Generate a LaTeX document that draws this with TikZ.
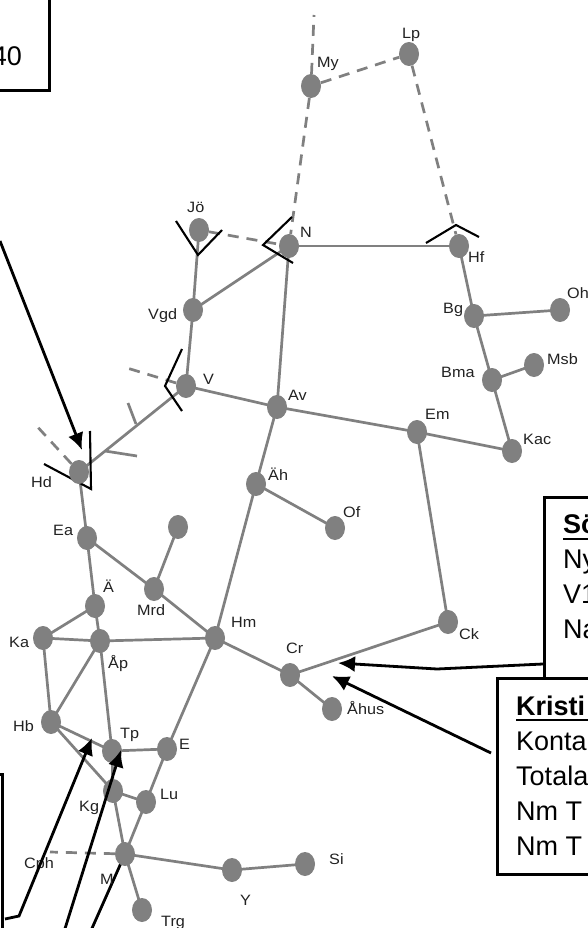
\documentclass[tikz,border=0pt]{standalone}
\usepackage{fontspec}
\setmainfont{Liberation Sans}
\newfontfamily\lblfont[FakeStretch=1.08]{Liberation Sans}
\usetikzlibrary{arrows.meta,shapes.geometric}
\definecolor{netgray}{HTML}{808080}
\definecolor{lblcol}{HTML}{222222}
\pgfdeclarelayer{edges}
\pgfsetlayers{edges,main}
\tikzset{
  x=1pt,y=-1pt,
  stn/.style={ellipse,fill=netgray,draw=none,minimum width=20pt,minimum height=24pt,inner sep=0pt},
  lbl/.style={anchor=base west,inner sep=0pt,text=lblcol,font=\lblfont\fontsize{15}{17}\selectfont},
  txt/.style={anchor=base west,inner sep=0pt,font=\fontsize{27}{30}\selectfont},
  link/.style={draw=netgray,line width=2.7pt},
  dlink/.style={draw=netgray,line width=2.7pt,dash pattern=on 11pt off 8pt},
  mark line/.style={draw=black,line width=2.1pt},
  callout/.style={draw=black,line width=2.8pt,-{Latex[length=17pt,width=16pt]}},
  plainline/.style={draw=black,line width=2.8pt},
  tbox/.style={draw=black,line width=2.6pt,fill=white},
  uline/.style={draw=black,line width=2.6pt}
}
\begin{document}
\begin{tikzpicture}
\useasboundingbox (0,0) rectangle (588,928);
\clip (0,0) rectangle (588,928);
\foreach \n/\p in {My/{311,86},Lp/{409,54},Jo/{199,230},N/{289,246},Hf/{459,246},Vgd/{193,310},Bg/{474,316},Oh/{560,310},Msb/{534,365},Bma/{492,380},V/{186,386},Av/{277,407},Em/{417,432},Kac/{512,451},Ah/{256,484},Of/{335,528},Hd/{79,472},Ea/{87,538},Blank/{178,527},Ae/{95,606},Mrd/{154,589},Ka/{43,638},Ap/{100,641},Hm/{215,638},Ck/{448,622},Cr/{290,675},Ahus/{332,709},Hb/{51,722},Tp/{112,751},E/{167,749},Kg/{113,791},Lu/{146,802},M/{125,854},Y/{232,870},Si/{305,864},Trg/{142,910}}
  {\node[stn] (\n) at (\p) {};}
% free ends
\coordinate (myup) at (314,15);
\coordinate (vleft) at (127,368);
\coordinate (hdleft) at (33,422);
\coordinate (cph) at (50,852);
\coordinate (s1a) at (136,424); \coordinate (s1b) at (128,403);
\coordinate (s2a) at (105,451); \coordinate (s2b) at (137,456);
\begin{pgfonlayer}{edges}
\fill[white] (0,0) rectangle (588,928);
\foreach \a/\b in {Hf/N,Hf/Bg,Bg/Oh,Bg/Bma,Bma/Msb,Bma/Kac,Em/Kac,Em/Av,Av/V,Av/N,Av/Ah,Ah/Of,Ah/Hm,Em/Ck,Ck/Cr,Cr/Ahus,Cr/Hm,Hm/Mrd,Hm/Ap,Hm/E,Mrd/Ea,Mrd/Blank,Ea/Hd,Ea/Ae,Ae/Ka,Ae/Ap,Ka/Ap,Ka/Hb,Ap/Hb,Ap/Tp,Hb/Tp,Hb/Kg,Tp/E,Tp/Kg,Kg/Lu,Kg/M,E/Lu,Lu/M,M/Y,Y/Si,M/Trg,V/Vgd,Vgd/Jo,Vgd/N,V/Hd}
  {\draw[link] (\a.center) -- (\b.center);}
\foreach \a/\b in {My/myup,My/Lp,My/N,Lp/Hf,Jo/N,V/vleft,Hd/hdleft,M/cph}
  {\draw[dlink] (\a) -- (\b);}
\draw[link] (s1a) -- (s1b);
\draw[link] (s2a) -- (s2b);
% black marks
\draw[mark line] (176,221) -- (198,255) -- (222,230);
\draw[mark line] (292,217) -- (263,245) -- (293,263);
\draw[mark line] (426,243) -- (456,225) -- (479,237);
\draw[mark line] (182,349) -- (165,386) -- (182,411);
\draw[mark line] (90,431) -- (91,489) -- (44,464);
% line that ends behind M
\coordinate (a3s) at (89,935);
\draw[plainline] (a3s) -- (M.center);
\end{pgfonlayer}
% labels
\foreach \tx/\p in {Jö/{187,212},My/{317,68},Lp/{402,39},N/{300,237},Hf/{468,262},Bg/{443,313},Oh/{567,298},Msb/{547,364},Bma/{441,377},Em/{425,419},Kac/{523,444},V/{203,384},Av/{288,400},Äh/{268,480},Of/{343,517},Vgd/{148,319},Hd/{31,487},Ea/{53,535},Ä/{103,592},Mrd/{137,615},Ka/{9,647},Åp/{108,668},Hm/{231,627},Ck/{459,639},Cr/{286,653},Åhus/{347,714},Hb/{13,731},Tp/{120,738},E/{179,749},Lu/{160,799},Kg/{79,811},Cph/{24,868},M/{100,884},Trg/{161,926},Y/{240,905},Si/{329,864}}
  {\node[lbl] at (\p) {\tx};}
% text boxes
\node[tbox,inner sep=0pt,anchor=north west,minimum width=68pt,minimum height=109pt] (boxA) at (-20,-20) {};
\node[txt,anchor=base east] (tA) at (22,66) {40};
\node[tbox,inner sep=0pt,anchor=north west,minimum width=30pt,minimum height=180pt] (boxB) at (-29,773) {};
\node[tbox,inner sep=0pt,anchor=north west,minimum width=80pt,minimum height=200pt] (boxC) at (543,496) {};
\node[txt] (c1) at (563,533) {\bfseries Sö};
\draw[uline] (563,539) -- (588,539);
\node[txt] (c2) at (563,568) {Ny};
\node[txt] (c3) at (563,603) {V1};
\node[txt] (c4) at (563,638) {Na};
\node[tbox,inner sep=0pt,anchor=north west,minimum width=120pt,minimum height=196pt] (boxD) at (496,677) {};
\node[txt] (d1) at (516,715) {\bfseries Kristi};
\draw[uline] (516,720) -- (588,720);
\node[txt] (d2) at (516,750) {Konta};
\node[txt] (d3) at (516,785) {Totala};
\node[txt] (d4) at (516,820) {Nm T};
\node[txt] (d5) at (516,855) {Nm T};
% callouts
\coordinate (a1s) at (0,241); \coordinate (a1t) at (82,450);
\draw[callout] (a1s) -- (a1t);
\coordinate (a2m) at (437,669); \coordinate (a2t) at (338,663); \coordinate (a2s) at (543,664);
\draw[callout] (a2s) -- (a2m) -- (a2t);
\coordinate (a5s) at (491,753); \coordinate (a5t) at (332,676);
\draw[callout] (a5s) -- (a5t);
\coordinate (a6s) at (5,919); \coordinate (a6m) at (19,916); \coordinate (a6t) at (92,738);
\draw[callout] (a6s) -- (a6m) -- (a6t);
\coordinate (a7s) at (63,935); \coordinate (a7t) at (121,750);
\draw[callout] (a7s) -- (a7t);
\end{tikzpicture}
\end{document}
